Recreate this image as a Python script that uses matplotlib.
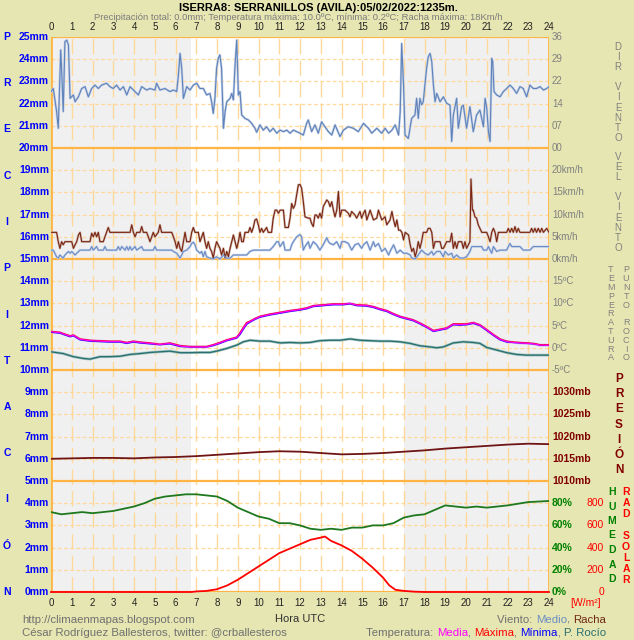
import matplotlib
matplotlib.use('Agg')
import matplotlib.pyplot as plt
from matplotlib.transforms import blended_transform_factory as btf

plt.rcParams['font.family'] = ['Liberation Sans', 'DejaVu Sans']

# ---------------- data ----------------
hours = list(range(25))

# wind direction (degrees)
wdir_h = [0.00,0.11,0.27,0.35,0.47,0.51,0.59,0.67,0.76,0.84,0.92,1.08,1.16,1.32,1.48,1.64,1.80,1.96,2.12,2.28,
          2.44,2.68,2.84,3.00,3.16,3.33,3.49,3.65,3.81,3.97,4.21,4.37,4.61,4.77,5.01,5.09,5.25,5.49,5.73,5.90,
          6.06,6.14,6.22,6.30,6.38,6.54,6.70,6.86,7.02,7.18,7.34,7.50,7.66,7.74,7.82,7.90,7.98,8.06,8.14,8.22,
          8.31,8.39,8.47,8.63,8.71,8.79,8.87,8.95,9.03,9.11,9.19,9.35,9.51,9.67,9.83,9.91,10.07,10.23,10.39,10.55,
          10.71,10.88,11.04,11.20,11.36,11.52,11.68,11.84,12.00,12.16,12.32,12.40,12.56,12.72,12.88,13.04,13.20,13.37,13.53,13.69,
          13.93,14.09,14.33,14.57,14.81,15.06,15.30,15.46,15.70,15.94,16.10,16.27,16.43,16.59,16.75,16.83,16.90,16.99,17.06,17.22,
          17.38,17.54,17.62,17.70,17.78,17.86,17.94,18.02,18.10,18.18,18.27,18.35,18.43,18.51,18.59,18.75,18.91,19.07,19.23,19.31,
          19.39,19.55,19.63,19.79,19.87,20.03,20.19,20.35,20.51,20.67,20.84,20.92,21.00,21.08,21.16,21.24,21.29,21.35,21.48,21.64,
          21.80,21.96,22.12,22.28,22.44,22.60,22.76,22.92,23.08,23.24,23.40,23.57,23.73,23.89,24.00]
wdir_deg = [183,193,118,64,318,258,118,345,350,334,161,172,150,166,193,199,166,193,204,193,
            204,210,199,193,204,188,199,172,199,188,172,199,188,193,188,210,188,193,183,188,
            183,237,307,258,161,199,188,204,210,193,193,172,177,150,112,161,258,291,302,258,
            64,118,150,161,177,156,269,350,172,183,107,96,91,80,64,51,75,58,69,53,
            64,48,58,53,58,48,58,53,48,42,80,91,53,75,48,85,69,53,42,75,
            37,58,69,64,53,80,64,48,64,48,64,48,58,75,42,118,339,204,42,31,
            96,107,161,96,161,140,150,204,258,296,307,280,204,150,177,150,166,145,139,21,
            107,161,64,134,139,64,134,53,107,123,69,161,129,53,21,291,280,183,172,166,
            183,193,204,193,177,199,193,166,204,193,193,199,188,193,199]

# wind gust (km/h)
gust_h = [0.00,0.11,0.27,0.35,0.43,0.51,0.59,0.67,0.84,1.00,1.08,1.16,1.24,1.32,1.40,1.48,1.88,1.96,2.04,2.12,
          2.20,2.28,2.36,2.52,2.60,2.76,2.84,3.81,3.89,3.97,4.05,4.13,4.29,4.37,4.45,4.61,4.69,4.77,4.93,5.01,
          5.17,5.25,5.33,5.82,5.90,5.98,6.06,6.14,6.22,6.30,6.38,6.46,6.54,6.70,6.78,6.86,6.94,7.10,7.18,7.34,
          7.42,7.50,7.58,7.66,7.74,7.82,7.90,7.98,8.14,8.22,8.31,8.39,8.47,8.55,8.63,8.71,8.79,8.87,8.95,9.03,
          9.11,9.19,9.27,9.35,9.51,9.59,9.67,9.75,9.83,9.91,9.99,10.07,10.15,10.23,10.39,10.47,10.63,10.71,10.80,10.88,
          10.96,11.04,11.20,11.28,11.44,11.52,11.60,11.68,11.76,11.84,11.92,12.00,12.08,12.16,12.24,12.40,12.48,12.56,12.64,12.72,
          12.80,12.88,12.96,13.04,13.12,13.29,13.37,13.45,13.53,13.61,13.69,13.77,13.85,13.93,14.01,14.17,14.33,14.41,14.49,14.65,
          14.73,14.89,14.97,15.06,15.14,15.22,15.38,15.54,15.70,15.78,15.94,16.10,16.18,16.34,16.43,16.51,16.59,16.67,16.75,16.83,
          16.91,16.99,17.07,17.23,17.31,17.39,17.47,17.55,17.62,17.70,17.78,17.86,17.94,18.10,18.18,18.27,18.35,18.43,18.51,18.75,
          18.83,18.91,19.07,19.23,19.31,19.39,19.47,19.55,19.63,19.79,19.87,19.95,20.03,20.19,20.24,20.31,20.35,20.43,20.51,20.59,
          20.76,21.00,21.08,21.16,21.24,21.32,21.40,21.48,21.56,21.96,22.04,22.12,22.20,22.28,22.36,22.44,22.52,22.60,23.08,23.16,
          23.24,23.32,23.40,23.48,23.57,23.65,23.73,23.89,24.00]
gust_kmh = [6.0,6.0,6.0,3.9,2.4,3.9,3.2,3.9,3.9,3.9,2.4,3.2,3.9,5.4,6.0,3.9,3.9,5.8,5.0,6.0,
            5.0,6.0,3.9,3.9,5.0,7.1,6.0,6.0,7.7,6.0,5.0,6.0,6.0,7.3,6.0,6.0,5.0,3.9,6.0,5.0,
            6.0,7.7,6.0,6.0,5.0,3.9,2.4,3.9,2.4,1.7,3.9,6.0,3.9,3.9,6.0,7.1,6.0,6.0,3.9,6.0,
            3.9,2.4,3.9,2.4,1.7,0.2,2.4,3.9,2.4,0.9,2.4,0.2,1.7,0.5,2.4,3.9,5.4,3.9,2.4,3.9,
            6.0,3.9,3.9,6.0,6.0,7.1,6.0,7.1,8.8,9.0,7.7,6.0,6.9,6.0,7.1,6.0,6.0,9.2,11.0,11.0,
            10.3,11.0,11.0,7.1,7.1,9.2,12.5,11.4,12.2,14.4,16.7,16.8,15.9,12.9,9.5,9.2,9.2,8.0,7.3,9.9,
            9.9,9.2,10.3,9.2,11.8,13.3,12.9,11.8,12.9,11.0,9.5,11.0,15.2,9.5,11.0,11.0,10.3,9.5,10.7,9.9,
            9.2,10.7,9.2,10.3,11.0,8.8,11.0,8.8,9.2,11.0,8.8,9.5,7.7,8.8,10.7,8.8,7.3,8.8,6.5,6.5,
            6.0,4.3,6.0,5.4,3.2,1.7,2.4,0.5,1.7,3.9,2.4,3.9,6.0,6.0,6.9,6.9,6.0,2.4,3.9,3.9,
            2.4,2.4,3.9,3.9,5.8,2.4,3.9,2.4,3.9,3.9,2.4,3.9,2.4,3.9,18.0,11.0,11.0,9.5,9.2,7.7,
            6.0,6.0,5.0,3.9,6.0,6.9,6.0,3.9,6.0,6.0,6.9,6.0,6.9,6.0,7.3,6.0,6.9,6.0,6.0,6.9,
            6.0,6.9,6.0,6.9,6.0,6.9,6.0,6.9,6.0]

# mean wind (km/h)
wind_h = [0.00,0.11,0.27,0.35,0.43,0.59,0.67,0.84,0.92,1.00,1.16,1.24,1.40,1.88,1.96,2.04,2.20,2.28,2.52,2.60,
          2.68,3.16,3.24,3.33,3.41,3.57,3.65,3.73,3.81,3.89,4.05,4.13,4.37,4.45,4.93,5.01,5.09,5.82,5.90,6.06,
          6.22,6.30,6.38,6.54,6.70,6.78,6.86,6.94,7.02,7.18,7.26,7.34,7.42,7.50,7.66,7.82,7.98,8.14,8.31,8.47,
          8.63,8.79,9.11,9.43,9.59,9.75,10.55,10.71,10.88,10.96,11.04,11.20,11.28,11.52,11.60,11.68,11.84,12.00,12.08,12.16,
          12.24,12.40,12.48,12.64,12.80,12.96,13.12,13.29,13.37,13.45,13.61,13.77,13.93,14.01,14.17,14.33,14.49,14.65,14.81,14.97,
          15.06,15.22,15.38,15.54,15.62,15.78,15.94,16.10,16.27,16.34,16.51,16.67,16.83,16.99,17.15,17.31,17.39,17.55,17.70,17.86,
          18.02,18.18,18.35,18.43,18.59,18.75,18.91,18.99,19.15,19.31,19.39,19.55,19.71,19.87,20.03,20.19,20.28,20.76,20.84,21.00,
          21.08,21.16,21.24,21.32,21.48,21.64,21.96,22.04,22.12,22.20,22.60,22.76,23.08,23.24,24.00]
wind_kmh = [2.0,2.0,0.5,0.2,0.9,0.2,0.9,1.7,1.3,1.7,0.9,1.3,2.0,2.0,2.8,2.0,2.8,2.0,2.0,2.8,
            2.0,2.0,2.8,2.0,2.8,2.0,2.8,2.0,2.8,2.0,2.8,2.0,2.8,2.0,2.0,2.8,2.0,2.0,1.7,1.3,
            0.2,0.9,1.7,2.0,2.8,3.5,3.8,3.2,2.0,1.3,1.7,0.5,1.7,0.5,0.2,0.0,0.5,0.0,0.9,0.2,
            0.2,0.9,0.9,0.9,1.7,2.0,2.0,2.8,3.9,3.9,2.8,3.9,2.0,2.0,3.2,3.9,5.0,5.5,5.0,2.0,
            2.8,3.9,2.4,3.9,3.2,2.0,3.2,4.8,3.9,3.5,3.2,3.9,2.4,3.9,3.9,3.5,2.0,3.2,3.5,2.4,
            3.2,3.9,2.0,3.9,2.8,3.5,1.7,2.4,0.9,1.7,3.2,1.3,2.0,1.3,1.3,0.9,0.2,0.0,0.9,2.0,
            1.3,0.9,1.7,0.9,1.7,1.7,0.5,1.7,0.9,1.3,0.2,0.9,0.2,0.2,0.5,1.7,2.8,2.8,2.0,2.0,
            2.8,2.0,1.3,2.8,1.7,2.0,2.0,2.8,3.5,2.8,2.8,2.0,2.0,2.8,2.8]

# temperature (ºC)
temp_h = [0.00,0.43,0.67,0.92,1.08,1.40,1.88,2.36,2.84,3.33,3.65,3.97,4.29,4.77,5.25,5.73,6.22,6.70,7.18,7.50,
          7.82,8.14,8.47,8.95,9.11,9.27,9.43,9.59,9.83,10.07,10.55,11.04,11.52,12.00,12.32,12.64,13.12,13.61,14.09,14.41,
          14.73,15.21,15.53,15.86,16.18,16.50,16.82,17.14,17.46,17.78,18.10,18.43,18.75,19.07,19.39,19.71,20.03,20.35,20.67,21.00,
          21.32,21.64,21.96,22.28,22.60,22.92,23.24,23.57,24.00]
temp_media = [3.6,3.4,3.0,2.6,2.8,1.9,1.6,1.5,1.4,1.4,1.1,1.4,1.2,1.0,0.75,1.0,0.4,0.2,0.2,0.2,
              0.6,1.1,1.7,2.3,3.2,4.4,5.5,5.9,6.5,7.0,7.5,7.9,8.3,8.6,8.9,9.4,9.6,9.8,9.8,10.0,
              9.6,9.5,9.2,8.7,8.3,7.6,7.0,6.6,6.2,5.5,4.7,3.8,4.1,4.4,5.3,5.2,5.3,5.6,5.1,4.0,
              2.9,1.9,1.4,1.2,1.1,1.0,0.9,0.6,0.6]
temp_max = [3.7,3.5,3.1,2.7,2.9,2.0,1.7,1.6,1.5,1.5,1.2,1.5,1.3,1.1,0.8,1.1,0.5,0.3,0.3,0.3,
            0.7,1.2,1.8,2.4,3.4,4.6,5.7,6.0,6.6,7.1,7.6,8.0,8.4,8.7,9.0,9.5,9.7,9.9,9.9,10.0,
            9.7,9.6,9.3,8.8,8.4,7.7,7.1,6.7,6.3,5.6,4.8,3.9,4.2,4.5,5.4,5.4,5.4,5.7,5.2,4.1,
            3.0,2.0,1.5,1.3,1.2,1.1,1.0,0.7,0.7]
temp_min = [3.5,3.3,2.9,2.5,2.7,1.8,1.5,1.4,1.3,1.3,1.0,1.3,1.1,0.9,0.7,0.9,0.3,0.2,0.2,0.2,
            0.5,1.0,1.6,2.2,3.0,4.2,5.3,5.8,6.4,6.9,7.4,7.8,8.2,8.5,8.8,9.3,9.5,9.7,9.7,9.9,
            9.5,9.4,9.1,8.6,8.2,7.5,6.9,6.5,6.1,5.4,4.6,3.7,4.0,4.3,5.2,5.1,5.2,5.5,5.0,3.9,
            2.8,1.8,1.3,1.2,1.1,1.0,0.9,0.6,0.6]
dew_h = [0.00,0.59,1.08,1.56,1.88,2.36,2.84,3.33,3.81,4.29,4.77,5.25,5.73,6.22,6.70,7.18,7.66,7.98,8.47,8.95,
         9.27,9.59,10.07,10.55,11.04,11.52,12.00,12.48,12.96,13.45,13.93,14.41,14.89,15.37,15.86,16.34,16.82,17.30,17.78,18.27,
         18.59,18.91,19.39,19.87,20.35,20.67,21.00,21.48,21.96,22.44,22.92,23.41,24.00]
dew_point = [-0.9,-1.3,-2.0,-2.4,-2.55,-2.0,-2.0,-1.9,-1.5,-1.3,-1.05,-0.9,-0.75,-1.1,-1.1,-1.05,-1.05,-0.75,-0.15,0.6,
             1.35,1.7,1.5,1.5,1.1,1.2,1.1,1.2,1.6,1.7,1.7,2.0,1.7,1.6,1.5,1.5,1.35,1.0,0.45,0.2,
             0.0,0.2,1.1,1.35,1.2,1.0,0.07,-0.5,-1.1,-1.5,-1.65,-1.65,-1.65]

# pressure (mb)
pres_h = [0,1,2,3,4,5,6,7,8,9,10,11,12,13,14,15,16,17,18,19,20,21,22,23,24]
pressure = [1015.0,1015.1,1015.2,1015.2,1015.1,1015.3,1015.4,1015.6,1015.9,1016.2,1016.5,1016.7,1016.6,
            1016.3,1016.0,1016.1,1016.3,1016.6,1016.9,1017.3,1017.6,1017.9,1018.2,1018.4,1018.3]

# humidity (%)
hum_h = [0,0.5,1,1.5,2,3,4,4.5,5,5.5,6,6.5,7,7.5,8,8.5,9,9.5,10,10.5,11,11.5,12,12.5,13,13.5,14,14.5,15,15.5,
         16,16.5,17,17.5,18,18.5,19,19.5,20,20.5,21,21.5,22,23,24]
humidity = [72,70,71,72,71,73,77,80,84,86,87,88,88,87,86,82,76,72,68,66,62,62,60,57,56,57,56,58,58,60,
            60,62,67,69,70,74,78,77,76,77,76,77,78,81,82]

# solar radiation (W/m2)
rad_h = [0,6.75,7,7.5,8,8.5,9,9.5,10,10.5,11,11.5,12,12.5,13,13.2,13.5,14,14.5,15,15.5,16,16.3,16.6,17,17.5,18,24]
radiation = [0,0,5,10,25,60,110,170,230,290,350,390,430,470,490,500,460,420,370,300,220,130,60,20,10,3,0,0]

left_labels = ['%dmm' % i for i in range(26)]
dir_labels = ['00', '07', '14', '22', '29', '36']
vel_labels = ['0km/h', '5km/h', '10km/h', '15km/h', '20km/h']
temp_labels = ['-5ºC', '0ºC', '5ºC', '10ºC', '15ºC']
pres_labels = ['1010mb', '1015mb', '1020mb', '1025mb', '1030mb']
hum_labels = ['0%', '20%', '40%', '60%', '80%']
rad_labels = ['0', '200', '400', '600', '800']

# ---------------- figure ----------------
BG = '#E6E6B2'
ORANGE = '#FFB444'
LORANGE = '#FFD89A'
W, H = 634, 640
fig = plt.figure(figsize=(W / 100, H / 100), dpi=100, facecolor=BG)
L, R, T, B = 51, 549, 37, 592
ax = fig.add_axes([L / W, 1 - B / H, (R - L) / W, (B - T) / H])
ax.set_xlim(0, 24)
ax.set_ylim(0, 25)
ax.set_facecolor('white')
for s in ax.spines.values():
    s.set_visible(False)
ax.set_xticks([])
ax.set_yticks([])

ax.axvspan(0, 6.75, color='#F0F0F0', lw=0, zorder=0)
ax.axvspan(17.0, 24, color='#F0F0F0', lw=0, zorder=0)

for h in range(1, 24):
    ax.axvline(h, color=LORANGE, lw=1.0, dashes=(11, 4.5), zorder=1)
for m in range(26):
    if m % 5 == 0:
        ax.axhline(m, color=ORANGE, lw=1.6, zorder=2)
    else:
        ax.axhline(m, color=LORANGE, lw=0.9, dashes=(3, 2), zorder=1)
ax.axvline(0, color=ORANGE, lw=2.0, zorder=2)
ax.axvline(24, color=ORANGE, lw=2.0, zorder=2)


def halo(x, y, dark, light, lw=0.8, hlw=1.7):
    ax.plot(x, y, color=light, lw=hlw, zorder=3, solid_joinstyle='round')
    ax.plot(x, y, color=dark, lw=lw, zorder=4, solid_joinstyle='round')


# wind direction: 0..360 deg -> 20..25
halo(wdir_h, [20 + d / 72.0 for d in wdir_deg], '#5F82BA', '#C4D1E6')
# wind speed: 0..25 km/h -> 15..20
halo(gust_h, [15 + v / 5.0 for v in gust_kmh], '#7A2410', '#D2BCB4')
halo(wind_h, [15 + v / 5.0 for v in wind_kmh], '#6B8CC4', '#C8D4EA')
# temperature: -5..20 -> 10..15
ax.plot(dew_h, [11 + t / 5.0 for t in dew_point], color='#A8C8C4', lw=2.0, zorder=3)
ax.plot(dew_h, [11 + t / 5.0 for t in dew_point], color='#2A7070', lw=1.0, zorder=4)
ax.plot(temp_h, [11 + t / 5.0 for t in temp_media], color='#CDB0F2', lw=2.0, zorder=3)
ax.plot(temp_h, [11 + t / 5.0 for t in temp_min], color='#0000FF', lw=0.9, zorder=4)
ax.plot(temp_h, [11 + t / 5.0 for t in temp_max], color='#FF0000', lw=0.9, zorder=4)
ax.plot(temp_h, [11 + t / 5.0 for t in temp_media], color='#FF00FF', lw=0.9, zorder=5)
# pressure: 1010..1035 -> 5..10
ax.plot(pres_h, [5 + (p - 1010) / 5.0 for p in pressure], color='#6E1414', lw=1.3, zorder=4)
# humidity: 0..100 -> 0..5
ax.plot(hum_h, [h / 20.0 for h in humidity], color='#1E781E', lw=1.3, zorder=4)
# radiation: 0..1000 -> 0..5
ax.plot(rad_h, [r / 200.0 for r in radiation], color='#FF0000', lw=1.3, zorder=4, clip_on=False)


def fx(x):
    return x / W


def fy(y):
    return 1 - y / H


tl = btf(fig.transFigure, ax.transData)
tx = btf(ax.transData, fig.transFigure)

# left labels
for i, lab in enumerate(left_labels):
    ax.text(fx(49), i, lab, transform=tl, ha='right', va='center', color='#0000FF',
            fontsize=7.5, fontweight='bold')

# left vertical word
word = 'PRECIPITACIÓN'
for k, ch in enumerate(word):
    fig.text(fx(7), fy(37 + k * 46.25), ch, ha='center', va='center', color='#0000FF',
             fontsize=7.5, fontweight='bold')

# hour labels top and bottom
for h in hours:
    ax.text(h, fy(27), str(h), transform=tx, ha='center', va='center', color='#222222', fontsize=7)
    ax.text(h, fy(603), str(h), transform=tx, ha='center', va='center', color='#222222', fontsize=7)

# right labels
GRAY = '#808080'
for k, lab in enumerate(dir_labels):
    ax.text(fx(552), 20 + k, lab, transform=tl, ha='left', va='center', color=GRAY, fontsize=7)
for k, lab in enumerate(vel_labels):
    ax.text(fx(552), 15 + k, lab, transform=tl, ha='left', va='center', color=GRAY, fontsize=7)
for k, lab in enumerate(temp_labels):
    ax.text(fx(552), 10 + k, lab, transform=tl, ha='left', va='center', color=GRAY, fontsize=7)
for k, lab in enumerate(pres_labels):
    ax.text(fx(552), 5 + k, lab, transform=tl, ha='left', va='center', color='#800000',
            fontsize=7.5, fontweight='bold')
for k, lab in enumerate(hum_labels):
    ax.text(fx(552), k, lab, transform=tl, ha='left', va='center', color='#008000',
            fontsize=7.5, fontweight='bold')
for k, lab in enumerate(rad_labels):
    ax.text(fx(604), k, lab, transform=tl, ha='right', va='center', color='#FF0000', fontsize=7.5)
fig.text(fx(586), fy(603), '[W/m²]', ha='center', va='center', color='#FF0000', fontsize=7.5)


def vword(x, y0, step, text, **kw):
    for k, ch in enumerate(text):
        if ch != ' ':
            fig.text(fx(x), fy(y0 + k * step), ch, ha='center', va='center', **kw)


vword(618, 47, 10.1, 'DIR VIENTO', color=GRAY, fontsize=7)
vword(618, 157, 10.1, 'VEL VIENTO', color=GRAY, fontsize=7)
vword(611, 270, 8.8, 'TEMPERATURA', color=GRAY, fontsize=6.5)
vword(626, 270, 8.8, 'PUNTO ROCIO', color=GRAY, fontsize=6.5)
vword(619, 379, 15.2, 'PRESIÓN', color='#800000', fontsize=8.5, fontweight='bold')
vword(612, 492, 14.5, 'HUMEDAD', color='#008000', fontsize=7.5, fontweight='bold')
vword(626, 492, 11.0, 'RAD SOLAR', color='#FF0000', fontsize=7.5, fontweight='bold')

# titles
fig.text(fx(318), fy(8), 'ISERRA8: SERRANILLOS (AVILA):05/02/2022:1235m.', ha='center', va='center',
         fontsize=8, fontweight='bold', color='#000000')
fig.text(fx(298), fy(17), 'Precipitación total: 0.0mm; Temperatura máxima: 10.0ºC, mínima: 0.2ºC; Racha máxima: 18Km/h',
         ha='center', va='center', fontsize=6.8, color='#7C7C7C')

# footer
fig.text(fx(22), fy(620), 'http://climaenmapas.blogspot.com', ha='left', va='center', fontsize=8.2, color='#707070')
fig.text(fx(22), fy(633), 'César Rodríguez Ballesteros, twitter: @crballesteros', ha='left', va='center',
         fontsize=8.2, color='#707070')
fig.text(fx(300), fy(619), 'Hora UTC', ha='center', va='center', fontsize=8, color='#303030')

renderer = fig.canvas.get_renderer()


def rich_right(xr, y, pieces, size):
    x = fx(xr)
    for txt, col in reversed(pieces):
        t = fig.text(x, fy(y), txt, ha='right', va='center', fontsize=size, color=col)
        bb = t.get_window_extent(renderer=renderer)
        x = bb.x0 / W


rich_right(606, 620, [('Viento: ', '#707070'), ('Medio', '#6B8CC4'), (', ', '#707070'),
                      ('Racha', '#6E2A10')], 8.2)
rich_right(606, 633, [('Temperatura: ', '#707070'), ('Media', '#FF00FF'), (', ', '#707070'),
                      ('Máxima', '#FF0000'), (', ', '#707070'), ('Mínima', '#0000FF'),
                      (', ', '#707070'), ('P. Rocío', '#2A7070')], 8.2)

fig.savefig('out.png', dpi=100, facecolor=BG)
